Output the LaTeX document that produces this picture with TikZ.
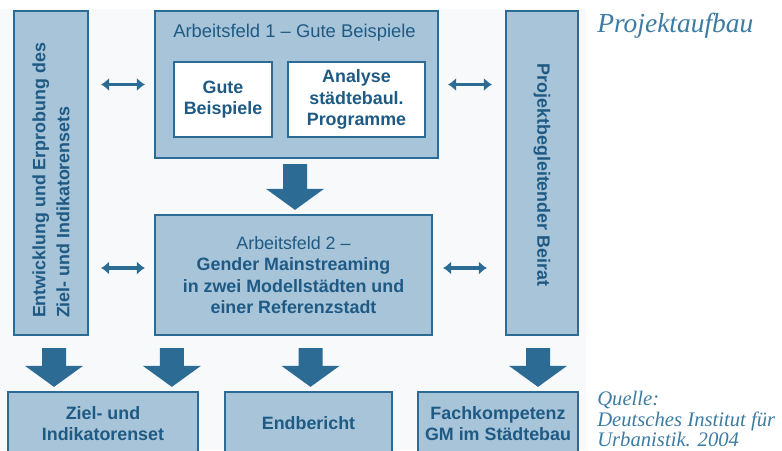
\documentclass[tikz,border=0pt]{standalone}
\usepackage{fontspec}
\setmainfont{Liberation Serif}
\setsansfont{Liberation Sans}
\usetikzlibrary{arrows.meta, positioning, calc}
\definecolor{boxblue}{RGB}{168, 196, 217}
\definecolor{lineblue}{RGB}{44, 108, 148}
\definecolor{textblue}{RGB}{30, 90, 132}
\definecolor{capblue}{RGB}{60, 124, 163}
\definecolor{panelgray}{RGB}{247, 249, 251}

% fetter Pfeil nach unten: #1 Anfang, #2 Ziel
\newcommand{\fatarrow}[2]{%
  \path #1 coordinate (fa-top);
  \path (fa-top |- #2) ++(0,-4) coordinate (fa-tip);
  \fill[lineblue] ($(fa-top)+(-12,0)$) -- ($(fa-top)+(12,0)$) -- ($(fa-tip)+(12,-21)$)
    -- ($(fa-tip)+(29,-21)$) -- (fa-tip) -- ($(fa-tip)+(-29,-21)$) -- ($(fa-tip)+(-12,-21)$) -- cycle;}

\begin{document}
\begin{tikzpicture}[x=0.75pt, y=-0.75pt,
  box/.style={draw=lineblue, line width=1.7pt, fill=boxblue, inner sep=0pt},
  inbox/.style={box, fill=white},
  boxtext/.style={text=textblue, font=\sffamily\bfseries\fontsize{13.4}{16.1}\selectfont, align=center, inner sep=0pt},
  dblarrow/.style={lineblue, line width=2.6pt, {Latex[length=6pt,width=10pt]}-{Latex[length=6pt,width=10pt]}},
  caption/.style={text=capblue, font=\itshape, anchor=base west, inner sep=0pt}]
\useasboundingbox (0,0) rectangle (782,450);
\fill[panelgray] (0,9) rectangle (586,450);

% Seitenspalten
\node[box, minimum width=55.5pt, minimum height=243pt] (links) at (51,173) {};
\node[boxtext, rotate=90, align=left, font=\sffamily\bfseries\fontsize{13.4}{18}\selectfont] (linkstext) at (51,180.5)
  {Entwicklung und Erprobung des\\Ziel- und Indikatorensets};
\node[box, minimum width=54pt, minimum height=243pt] (rechts) at (542,173) {};
\node[boxtext, rotate=-90] (rechtstext) at (542,175) {Projektbegleitender Beirat};

% Arbeitsfeld 1
\node[box, minimum width=212.25pt, minimum height=110.25pt] (af1) at (296.5,84.5) {};
\node[boxtext, font=\sffamily\fontsize{13.8}{16}\selectfont] (af1title) at (294.5,33) {Arbeitsfeld 1 -- Gute Beispiele};
\node[inbox, boxtext, minimum width=73.5pt, minimum height=56.25pt] (gute) at (223,99.5) {Gute\\Beispiele};
\node[inbox, boxtext, minimum width=102.75pt, minimum height=56.25pt] (analyse) at (356.5,99.5) {Analyse\\städtebaul.\\Programme};

% Arbeitsfeld 2
\node[box, boxtext, minimum width=207.75pt, minimum height=90pt] (af2) at (293.5,275)
  {\mdseries Arbeitsfeld 2 --\\Gender Mainstreaming\\in zwei Modellstädten und\\einer Referenzstadt};

% Ergebnisse
\node[box, boxtext, minimum width=142.5pt, minimum height=47.25pt] (ziel) at (103,423.5) {Ziel- und\\Indikatorenset};
\node[box, boxtext, minimum width=125.25pt, minimum height=47.25pt] (endb) at (308.5,423.5) {Endbericht};
\node[box, boxtext, minimum width=120pt, minimum height=47.25pt] (fach) at (498,423.5) {Fachkompetenz\\GM im Städtebau};

% Doppelpfeile
\draw[dblarrow, shorten <=9pt, shorten >=6.75pt] (links.east |- af1.west) -- (af1.west);
\draw[dblarrow, shorten <=6.75pt, shorten >=9.75pt] (af1.east) -- (rechts.west |- af1.east);
\draw[dblarrow, shorten <=9pt, shorten >=6.75pt] ($(links.east |- af2.west)+(0,-7)$) -- ($(af2.west)+(0,-7)$);
\draw[dblarrow, shorten <=7.5pt, shorten >=13.5pt] ($(af2.east)+(0,-7)$) -- ($(rechts.west |- af2.east)+(0,-7)$);

% fette Pfeile
\fatarrow{($(af1.south)+(-1.5,5)$)}{af2.north}
\fatarrow{($(links.south)+(3,12)$)}{ziel.north}
\fatarrow{($(af2.south west)+(18,12)$)}{ziel.north}
\fatarrow{($(af2.south)+(17,12)$)}{endb.north}
\fatarrow{($(rechts.south)+(-4,12)$)}{fach.north}

% Beschriftung
\node[caption, font=\itshape\fontsize{20.6}{24}\selectfont] (titel) at (597,32) {Projektaufbau};
\node[caption, font=\itshape\fontsize{15.5}{15.4}\selectfont, align=left, anchor=north west] (quelle) at (597,391)
  {Quelle:\\Deutsches Institut für\\Urbanistik. 2004};
\end{tikzpicture}
\end{document}
